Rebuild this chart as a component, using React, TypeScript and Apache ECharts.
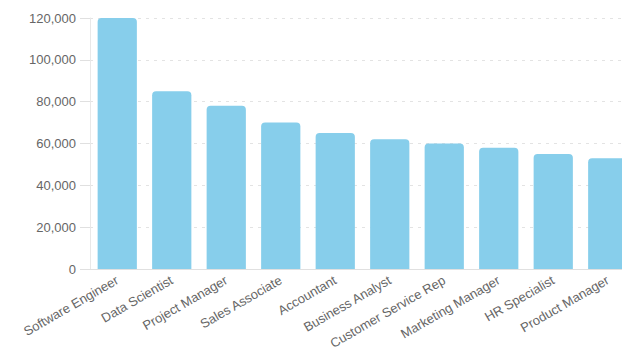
import React, { useEffect, useRef } from "react";
import * as echarts from "echarts";

const categories = [
  "Software Engineer",
  "Data Scientist",
  "Project Manager",
  "Sales Associate",
  "Accountant",
  "Business Analyst",
  "Customer Service Rep",
  "Marketing Manager",
  "HR Specialist",
  "Product Manager",
];
const salaries = [120000, 85000, 78000, 70000, 65000, 62000, 60000, 58000, 55000, 53000];

export default function App() {
  const ref = useRef<HTMLDivElement>(null);
  useEffect(() => {
    if (!ref.current) return;
    const chart = echarts.init(ref.current, undefined, { renderer: "svg" });
    chart.setOption({
      animation: false,
      textStyle: { fontFamily: "Liberation Sans, Arial, sans-serif" },
      grid: { left: 90, right: 0, top: 18, bottom: 91, containLabel: false },
      xAxis: {
        type: "category",
        data: categories,
        axisLine: { show: true, lineStyle: { color: "#e0e0e0" } },
        axisTick: { show: false },
        axisLabel: {
          rotate: 30,
          interval: 0,
          color: "#666",
          fontSize: 13,
          margin: 10,
        },
      },
      yAxis: {
        type: "value",
        min: 0,
        max: 120000,
        interval: 20000,
        axisLine: { show: true, lineStyle: { color: "#e8e8e8" } },
        axisTick: { show: true, length: 10, lineStyle: { color: "#e0e0e0" } },
        axisLabel: {
          color: "#666",
          fontSize: 13,
          margin: 14,
          formatter: (v: number) => v.toLocaleString("en-US"),
        },
        splitLine: { show: true, lineStyle: { color: "#e3e3e3", type: [3, 5] } },
      },
      series: [
        {
          type: "bar",
          data: salaries,
          barWidth: "72%",
          itemStyle: { color: "#87CEEB", borderRadius: [4, 4, 0, 0] },
        },
      ],
    });
    return () => chart.dispose();
  }, []);
  return (
    <div
      style={{
        position: "absolute",
        left: 0,
        top: 0,
        width: 622,
        height: 360,
        overflow: "hidden",
      }}
    >
      <div ref={ref} style={{ width: 635, height: 360 }} />
    </div>
  );
}
